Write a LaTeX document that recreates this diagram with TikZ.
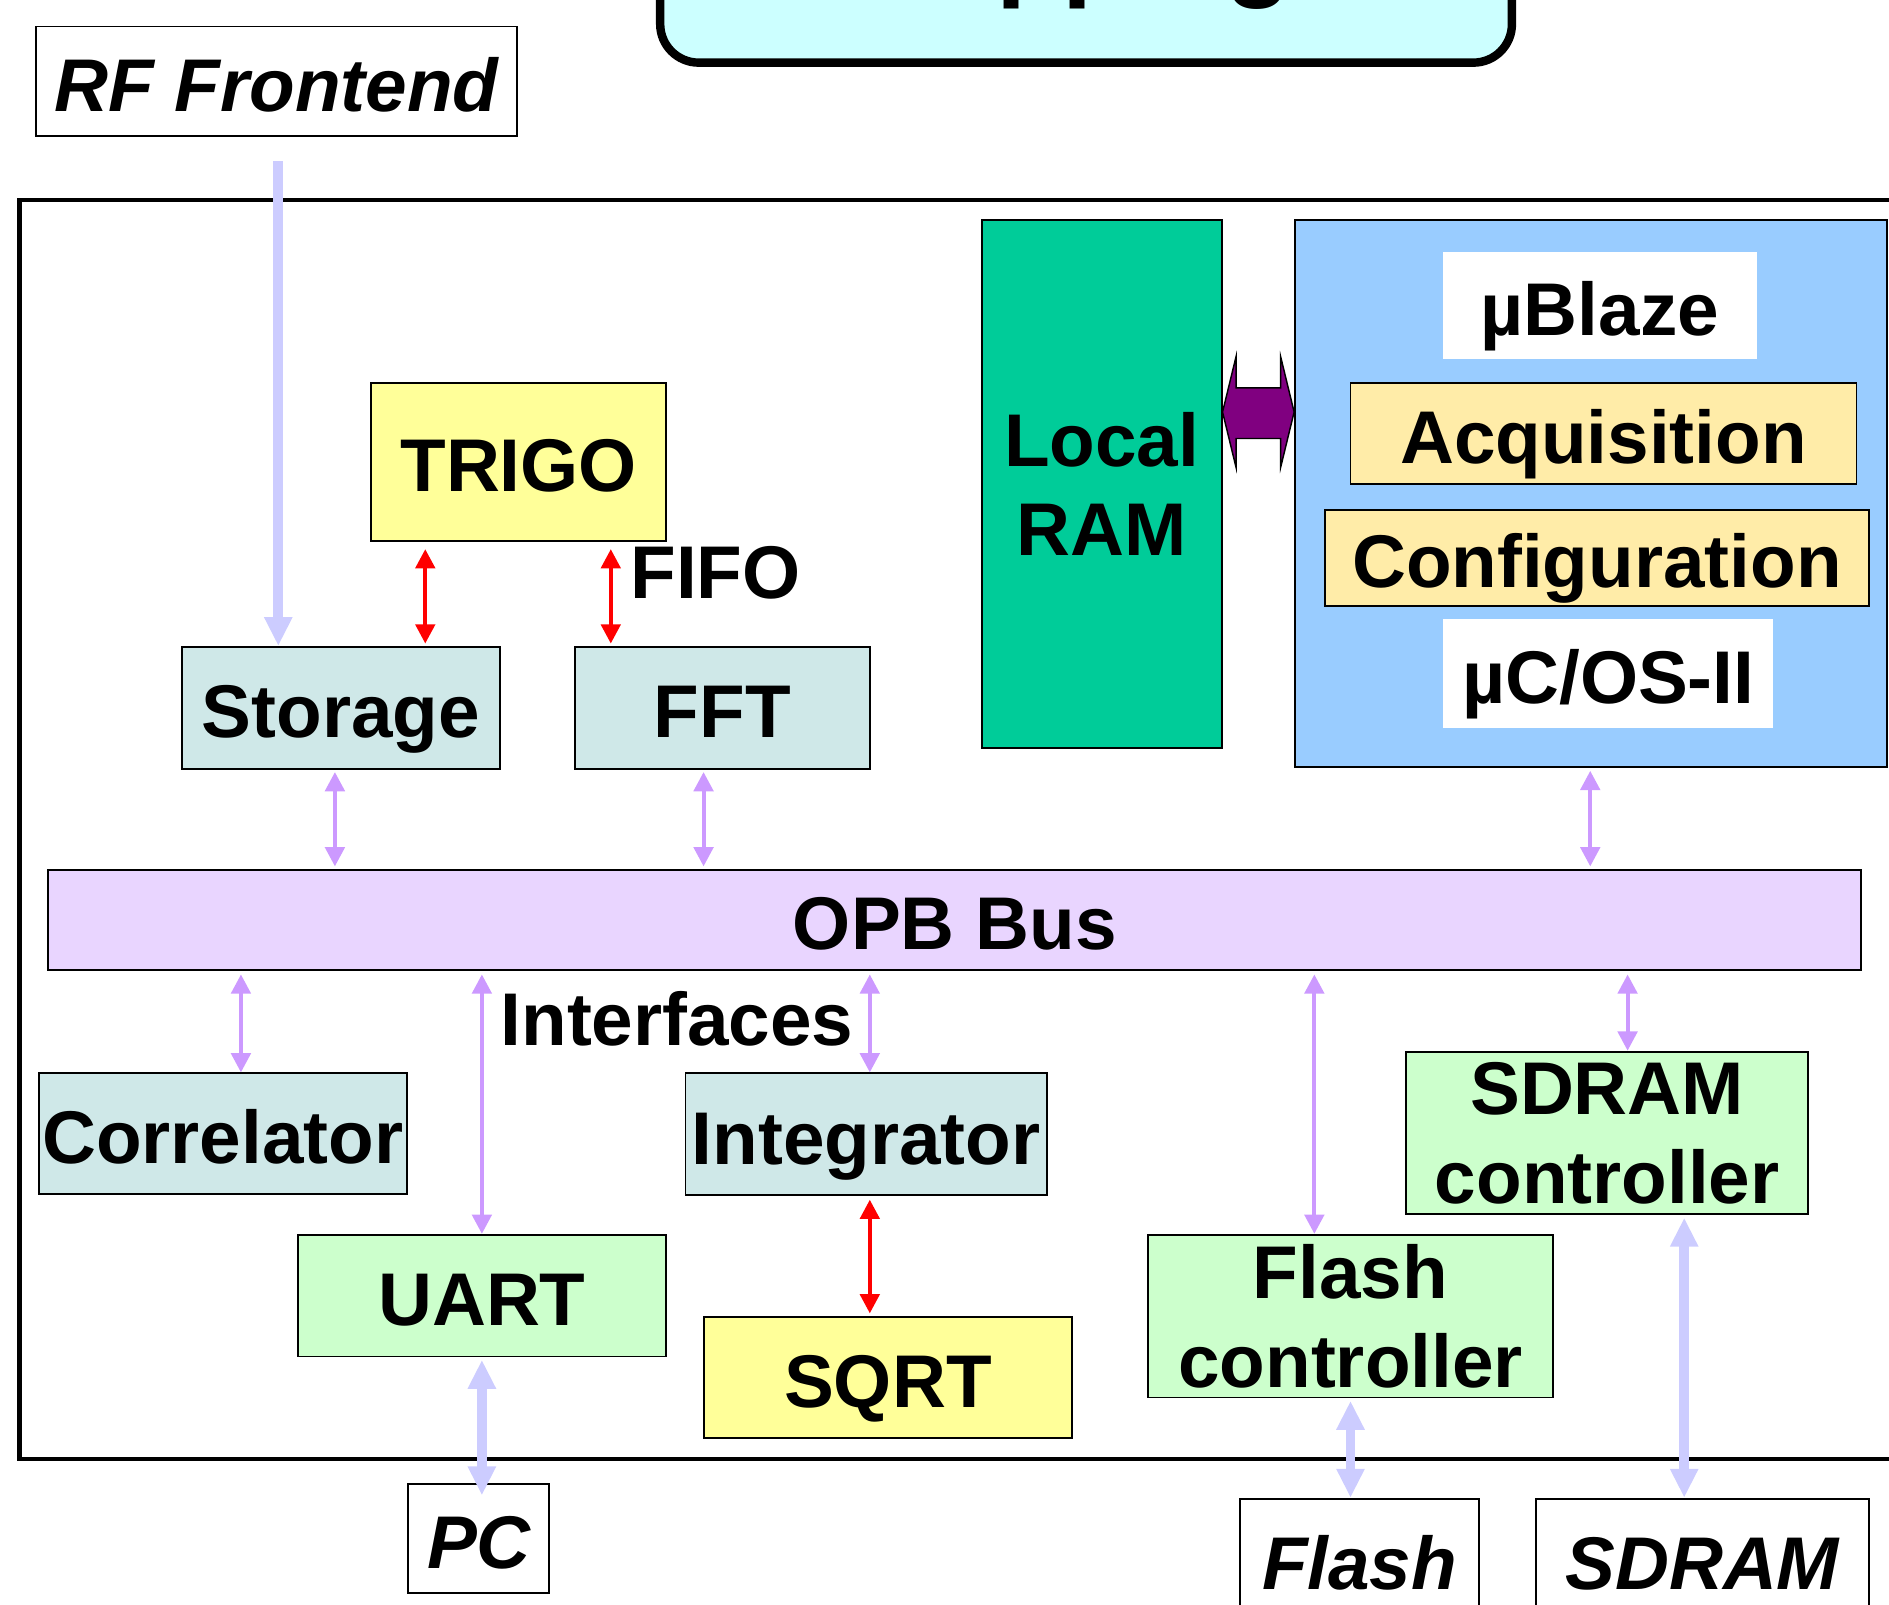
\documentclass[tikz,border=0pt]{standalone}
\usepackage{fontspec}
\setmainfont{Liberation Sans}
\usetikzlibrary{arrows.meta}
\definecolor{topcyan}{HTML}{CCFFFF}
\definecolor{yel}{HTML}{FFFF99}
\definecolor{grcy}{HTML}{CFE8E8}
\definecolor{ramgreen}{HTML}{00CC99}
\definecolor{cpublue}{HTML}{99CCFF}
\definecolor{sand}{HTML}{FFECA8}
\definecolor{opbcol}{HTML}{E9D5FF}
\definecolor{lgreen}{HTML}{CCFFCC}
\definecolor{arrP}{HTML}{CC99FF}
\definecolor{arrB}{HTML}{CCCCFF}
\definecolor{blockP}{HTML}{800080}
\begin{document}
\begin{tikzpicture}[x=0.5pt,y=-0.5pt,
  box/.style={draw=black, line width=0.8pt, inner sep=0pt, align=center,
    font=\bfseries\fontsize{31}{37}\selectfont},
  one/.style={text height=24.8pt, text depth=0pt},
  ext/.style={box, one, fill=white, font=\bfseries\itshape\fontsize{31}{37}\selectfont},
  lbl/.style={inner sep=0pt, one, font=\bfseries\fontsize{31}{37}\selectfont},
  parr/.style={draw=arrP, line width=1.7pt,
    {Triangle[width=8pt,length=8pt]}-{Triangle[width=8pt,length=8pt]}},
  rarr/.style={draw=red, line width=1.7pt,
    {Triangle[width=8pt,length=8pt]}-{Triangle[width=8pt,length=8pt]}},
  barr/.style={draw=arrB, line width=4pt,
    {Triangle[width=11pt,length=12pt]}-{Triangle[width=11pt,length=12pt]}},
  barrone/.style={draw=arrB, line width=4pt, -{Triangle[width=11pt,length=12pt]}}
]
\useasboundingbox (0,0) rectangle (1568,1332);

% top (cut) box
\draw[fill=topcyan, line width=3.5pt, rounded corners=16pt] (548,-120) rectangle (1255,52);
\node[anchor=base, inner sep=0pt, font=\bfseries\fontsize{45}{50}\selectfont] (title) at (887,-11) {Mapping};

% RF frontend
\node[ext, minimum width=199.5pt, minimum height=45.5pt] (rf) at (229.5,67.5) {RF Frontend};

% outer frame
\draw[line width=2pt] (1620,166) -- (16,166) -- (16,1211) -- (1620,1211);

% upper blocks
\node[box, one, fill=yel, minimum width=122.5pt, minimum height=65.5pt] (trigo) at (430.5,383.5) {TRIGO};
\node[box, one, fill=grcy, minimum width=132pt, minimum height=50.5pt] (storage) at (283,587.5) {Storage};
\node[box, one, fill=grcy, minimum width=122.5pt, minimum height=50.5pt] (fft) at (599.5,587.5) {FFT};
\node[lbl] (fifo) at (594,472) {FIFO};

\node[box, fill=ramgreen, minimum width=99.5pt, minimum height=219pt] (ram) at (914.5,402) {Local\\RAM};
\node[box, fill=cpublue, minimum width=245.5pt, minimum height=227pt] (cpu) at (1320.5,410) {};
\node[box, one, draw=none, fill=white, minimum width=130pt, minimum height=44.5pt] (ublaze) at (1328,253.5) {µBlaze};
\node[box, one, fill=sand, minimum width=210pt, minimum height=42pt] (acq) at (1331,360) {Acquisition};
\node[box, one, fill=sand, minimum width=225.5pt, minimum height=40pt] (conf) at (1325.5,463) {Configuration};
\node[box, one, draw=none, fill=white, minimum width=137pt, minimum height=45pt] (ucos) at (1335,559) {µC/OS-II};

% block arrow between RAM and CPU
\draw[fill=blockP, line width=0.6pt] (ram.east |- 0,342) -- (1026,296) -- (1026,322) -- (1063,322)
  -- (1063,296) -- (cpu.west |- 0,342) -- (1063,388) -- (1063,364) -- (1026,364) -- (1026,388) -- cycle;

% bus
\node[box, one, fill=opbcol, minimum width=752.5pt, minimum height=41.5pt] (opb) at (792.5,763.5) {OPB Bus};

% lower blocks
\node[box, one, fill=grcy, minimum width=153pt, minimum height=50pt] (corr) at (185,941) {Correlator};
\node[box, one, fill=grcy, minimum width=150pt, minimum height=50.5pt] (integ) at (719,941.5) {Integrator};
\node[box, one, fill=lgreen, minimum width=153pt, minimum height=50.5pt] (uart) at (400,1075.5) {UART};
\node[box, one, fill=yel, minimum width=153pt, minimum height=50.5pt] (sqrt) at (737,1143.5) {SQRT};
\node[box, fill=lgreen, minimum width=168pt, minimum height=67.5pt] (flashc) at (1121,1092.5) {Flash\\controller};
\node[box, fill=lgreen, minimum width=167pt, minimum height=67.5pt] (sdramc) at (1334,940.5) {SDRAM\\controller};
\node[lbl] (ifc) at (562,843) {Interfaces};

% external
\node[ext, minimum width=58.5pt, minimum height=45pt] (pc) at (397.5,1277) {PC};
\node[ext, minimum width=99.5pt, minimum height=50.5pt] (flash) at (1128.5,1294.5) {Flash};
\node[ext, minimum width=138pt, minimum height=50.5pt] (sdram) at (1413,1294.5) {SDRAM};

% x positions of connectors
\coordinate (cRF) at (231,0);
\coordinate (cR1) at (353,0);
\coordinate (cR2) at (507,0);
\coordinate (cS) at (278,0);
\coordinate (cF) at (584,0);
\coordinate (cP) at (1320,0);
\coordinate (cCo) at (200,0);
\coordinate (cU) at (400,0);
\coordinate (cI) at (722,0);
\coordinate (cFl) at (1091,0);
\coordinate (cSd) at (1351,0);
\coordinate (cFl2) at (1121,0);
\coordinate (cSd2) at (1398,0);

% connectors
\draw[barrone] ([yshift=-10pt]rf.south -| cRF) -- (storage.north -| cRF);
\draw[rarr] ([yshift=-3pt]trigo.south -| cR1) -- ([yshift=1pt]storage.north -| cR1);
\draw[rarr] ([yshift=-3pt]trigo.south -| cR2) -- ([yshift=1pt]fft.north -| cR2);

\draw[parr] ([yshift=-1pt]storage.south -| cS) -- ([yshift=1pt]opb.north -| cS);
\draw[parr] ([yshift=-1pt]fft.south -| cF) -- ([yshift=1pt]opb.north -| cF);
\draw[parr] ([yshift=-1pt]cpu.south -| cP) -- ([yshift=1pt]opb.north -| cP);

\draw[parr] ([yshift=-1.5pt]opb.south -| cCo) -- (corr.north -| cCo);
\draw[parr] ([yshift=-1.5pt]opb.south -| cU) -- (uart.north -| cU);
\draw[parr] ([yshift=-1.5pt]opb.south -| cI) -- (integ.north -| cI);
\draw[parr] ([yshift=-1.5pt]opb.south -| cFl) -- (flashc.north -| cFl);
\draw[parr] ([yshift=-1.5pt]opb.south -| cSd) -- (sdramc.north -| cSd);

\draw[rarr] ([yshift=-1.5pt]integ.south -| cI) -- ([yshift=1pt]sqrt.north -| cI);

\draw[barr] ([yshift=-1pt]uart.south -| cU) -- ([yshift=-5pt]pc.north -| cU);
\draw[barr] ([yshift=-1pt]flashc.south -| cFl2) -- (flash.north -| cFl2);
\draw[barr] ([yshift=-1pt]sdramc.south -| cSd2) -- (sdram.north -| cSd2);
\end{tikzpicture}
\end{document}
